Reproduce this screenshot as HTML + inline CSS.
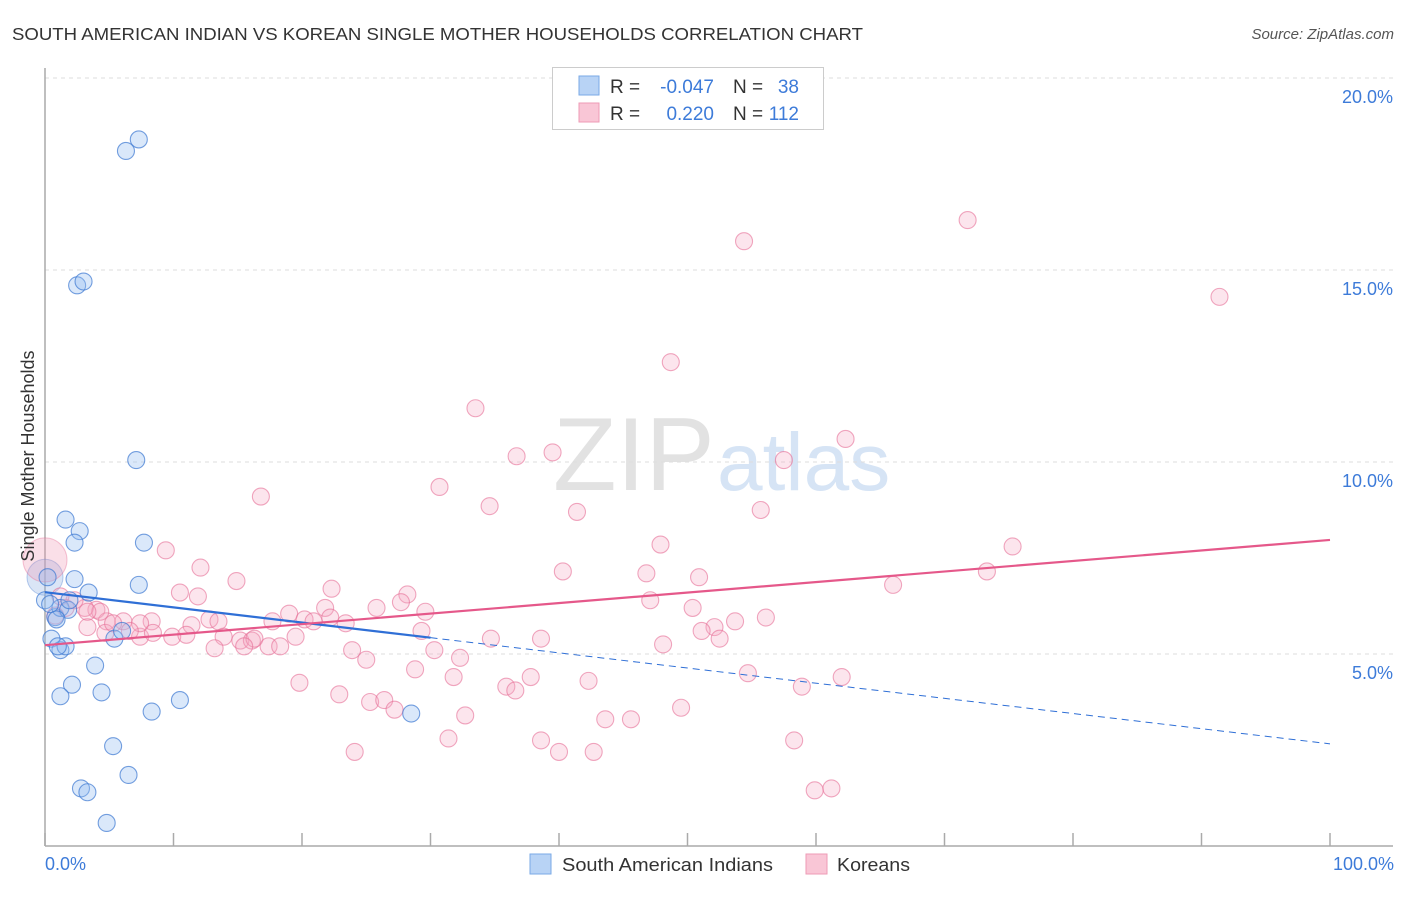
<!DOCTYPE html>
<html><head><meta charset="utf-8"><style>
body{margin:0;background:#fff;font-family:"Liberation Sans",sans-serif}
svg text{font-family:"Liberation Sans",sans-serif}
</style></head><body>
<svg width="1406" height="892" viewBox="0 0 1406 892" xmlns="http://www.w3.org/2000/svg">
<text x="12" y="40" font-size="17.5" fill="#333" textLength="851" lengthAdjust="spacingAndGlyphs">SOUTH AMERICAN INDIAN VS KOREAN SINGLE MOTHER HOUSEHOLDS CORRELATION CHART</text>
<text x="1394" y="39" font-size="15" fill="#555" text-anchor="end" font-style="italic">Source: ZipAtlas.com</text>
<g>
<text x="553" y="490" font-family="Liberation Serif" font-size="104" fill="#e2e2e2">ZIP</text>
<text x="717" y="490" font-size="82" fill="#d6e4f5">atlas</text>
</g>
<g id="grid"></g>
<g id="axes"></g>
<g id="pts"></g>
<g id="trend"></g>
<text x="34" y="456" font-size="18" fill="#333" text-anchor="middle" transform="rotate(-90 34 456)">Single Mother Households</text>
<text x="45" y="870" font-size="18" fill="#3d7bd9">0.0%</text>
<text x="1394" y="870" font-size="18" fill="#3d7bd9" text-anchor="end">100.0%</text>
<g>
<rect x="552.5" y="67.5" width="271" height="62" fill="#fff" stroke="#ccc"/>
<rect x="579" y="76" width="20" height="19" fill="#b8d3f5" stroke="#7aa9e6"/>
<rect x="579" y="103" width="20" height="19" fill="#f9c6d6" stroke="#ee9bb6"/>
<text x="610" y="93" font-size="19" fill="#333">R =</text>
<text x="714" y="93" font-size="19" fill="#3d7bd9" text-anchor="end">-0.047</text>
<text x="733" y="93" font-size="19" fill="#333">N =</text>
<text x="799" y="93" font-size="19" fill="#3d7bd9" text-anchor="end">38</text>
<text x="610" y="120" font-size="19" fill="#333">R =</text>
<text x="714" y="120" font-size="19" fill="#3d7bd9" text-anchor="end">0.220</text>
<text x="733" y="120" font-size="19" fill="#333">N =</text>
<text x="799" y="120" font-size="19" fill="#3d7bd9" text-anchor="end">112</text>
</g>
<g>
<rect x="530" y="854" width="21" height="20" fill="#b8d3f5" stroke="#7aa9e6"/>
<text x="562" y="871" font-size="18" fill="#333" textLength="211" lengthAdjust="spacingAndGlyphs">South American Indians</text>
<rect x="806" y="854" width="21" height="20" fill="#f9c6d6" stroke="#ee9bb6"/>
<text x="837" y="871" font-size="18" fill="#333" textLength="73" lengthAdjust="spacingAndGlyphs">Koreans</text>
</g>
</svg>
<script>
const yTicks=[5,10,15,20];
const yTickLabels=["5.0%","10.0%","15.0%","20.0%"];
const xTicks=[0,10,20,30,40,50,60,70,80,90,100];
const blueX=[6.3,7.3,2.5,3.0,7.1,1.6,2.7,2.3,7.7,7.3,2.3,3.4,0.2,0,0.8,1.2,1.8,0.5,1.2,1.6,1.0,5.4,6.0,3.9,2.1,1.2,4.4,8.3,10.5,5.3,6.5,2.8,3.3,4.8,28.5,0.4,0.9,1.9];
const blueY=[18.1,18.4,14.6,14.7,10.05,8.5,8.2,7.9,7.9,6.8,6.95,6.6,7.0,6.4,5.96,6.2,6.15,5.4,5.1,5.2,5.2,5.4,5.6,4.7,4.2,3.9,4.0,3.5,3.8,2.6,1.85,1.5,1.4,0.6,3.45,6.3,5.9,6.4];
const pinkX=[71.8,54.4,91.4,48.7,33.5,62.3,39.5,36.7,57.5,30.7,16.8,34.6,41.4,55.7,75.3,47.9,9.4,12.1,40.3,46.8,50.9,73.3,14.9,22.3,10.5,28.2,11.9,66.0,27.7,47.1,25.8,50.4,19.0,21.8,29.6,56.1,4.0,3.1,4.8,6.1,8.3,12.8,17.7,20.2,20.9,23.4,53.7,52.1,51.1,11.4,13.5,4.7,7.4,8.4,9.9,11.0,15.2,16.1,16.3,17.4,18.3,13.9,19.5,3.3,7.4,22.2,23.9,29.3,34.7,38.6,48.1,52.5,13.2,15.5,25.0,30.3,32.3,28.8,54.7,37.8,42.3,35.9,36.6,31.8,62.0,58.9,19.8,22.9,25.3,26.4,27.2,32.7,49.5,43.6,45.6,31.4,38.6,58.3,24.1,40.0,42.7,59.9,61.2,1.6,2.3,1.2,4.3,0.8,6.6,3.3,5.3];
const pinkY=[16.3,15.75,14.3,12.6,11.4,10.6,10.25,10.15,10.05,9.35,9.1,8.85,8.7,8.75,7.8,7.85,7.7,7.25,7.15,7.1,7.0,7.15,6.9,6.7,6.6,6.55,6.5,6.8,6.35,6.4,6.2,6.2,6.05,6.2,6.1,5.95,6.15,6.2,5.85,5.85,5.85,5.9,5.85,5.9,5.85,5.8,5.85,5.7,5.6,5.75,5.85,5.55,5.45,5.55,5.45,5.5,5.35,5.35,5.4,5.2,5.2,5.45,5.45,5.7,5.8,5.95,5.1,5.6,5.4,5.4,5.25,5.4,5.15,5.2,4.85,5.1,4.9,4.6,4.5,4.4,4.3,4.15,4.05,4.4,4.4,4.15,4.25,3.95,3.75,3.8,3.55,3.4,3.6,3.3,3.3,2.8,2.75,2.75,2.45,2.45,2.45,1.45,1.5,6.2,6.4,6.5,6.1,6.0,5.6,6.1,5.8];
const bigX=[0,0];
const bigY=[7.0,7.45];
const blueTrend=[6.61,2.66];
const pinkTrend=[5.23,7.97];
const blueSolidEnd=30;

const NS="http://www.w3.org/2000/svg";
const sx=v=>45+v*12.85;
const sy=v=>846-v*38.4;
function mk(tag,attrs,parent){const e=document.createElementNS(NS,tag);for(const k in attrs)e.setAttribute(k,attrs[k]);document.getElementById(parent).appendChild(e);return e;}
yTicks.forEach((t,i)=>{
 const l=mk('line',{x1:45,x2:1393,y1:sy(t),y2:sy(t),stroke:'#ddd','stroke-dasharray':'4,4'},'grid');
 
 
 const tx=mk('text',{x:1393,y:sy(t)+25,'font-size':18,fill:'#3d7bd9','text-anchor':'end'},'grid');
 tx.textContent=yTickLabels[i];
 
 
});
const ya=mk('line',{x1:45,x2:45,y1:68,y2:846,stroke:'#aaa','stroke-width':1.5},'axes');


const xa=mk('line',{x1:45,x2:1393,y1:846,y2:846,stroke:'#aaa','stroke-width':1.5},'axes');


xTicks.forEach(t=>{
 const l=mk('line',{x1:sx(t),x2:sx(t),y1:833,y2:846,stroke:'#aaa','stroke-width':1.5},'axes');
 
 
});
bigX.forEach((x,i)=>{
 const c=mk('circle',{cx:sx(x),cy:sy(bigY[i]),r:i==0?18:22,fill:i==0?'rgba(150,180,230,0.35)':'rgba(240,150,180,0.3)',stroke:i==0?'rgba(80,130,210,0.4)':'rgba(230,110,150,0.4)'},'pts');
 
 
});
pinkX.forEach((x,i)=>{
 const c=mk('circle',{cx:sx(x),cy:sy(pinkY[i]),r:8.5,fill:'rgba(245,170,195,0.3)',stroke:'rgba(230,110,150,0.6)','stroke-width':1.1},'pts');
 
 
});
blueX.forEach((x,i)=>{
 const c=mk('circle',{cx:sx(x),cy:sy(blueY[i]),r:8.5,fill:'rgba(150,190,240,0.35)',stroke:'rgba(60,120,210,0.7)','stroke-width':1.1},'pts');
 
 
});
const bAt=x=>blueTrend[0]+(blueTrend[1]-blueTrend[0])*x/100;
const b1=mk('line',{x1:sx(0),y1:sy(bAt(0)),x2:sx(blueSolidEnd),y2:sy(bAt(blueSolidEnd)),stroke:'#2f6fd6','stroke-width':2.2},'trend');


const b2=mk('line',{x1:sx(blueSolidEnd),y1:sy(bAt(blueSolidEnd)),x2:sx(100),y2:sy(bAt(100)),stroke:'#2f6fd6','stroke-width':1,'stroke-dasharray':'7,5'},'trend');


const p1=mk('line',{x1:sx(0),y1:sy(pinkTrend[0]),x2:sx(100),y2:sy(pinkTrend[1]),stroke:'#e5588a','stroke-width':2.2},'trend');


</script>
</body></html>
